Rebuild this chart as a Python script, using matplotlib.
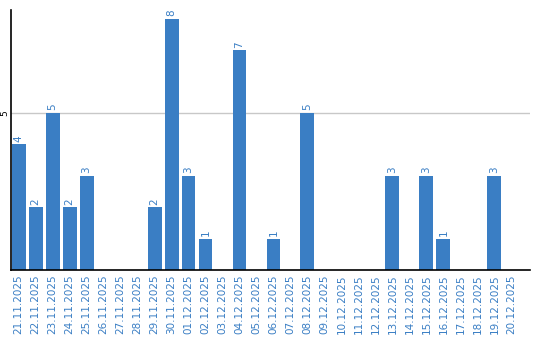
import matplotlib
matplotlib.use('Agg')
import matplotlib.pyplot as plt

dates = ['21.11.2025', '22.11.2025', '23.11.2025', '24.11.2025', '25.11.2025',
         '26.11.2025', '27.11.2025', '28.11.2025', '29.11.2025', '30.11.2025',
         '01.12.2025', '02.12.2025', '03.12.2025', '04.12.2025', '05.12.2025',
         '06.12.2025', '07.12.2025', '08.12.2025', '09.12.2025', '10.12.2025',
         '11.12.2025', '12.12.2025', '13.12.2025', '14.12.2025', '15.12.2025',
         '16.12.2025', '17.12.2025', '18.12.2025', '19.12.2025', '20.12.2025']
counts = [4, 2, 5, 2, 3, 0, 0, 0, 2, 8,
          3, 1, 0, 7, 0, 1, 0, 5, 0, 0,
          0, 0, 3, 0, 3, 1, 0, 0, 3, 0]

blue = '#3a7ec4'

fig = plt.figure(figsize=(5.4, 3.4), dpi=100)
ax = fig.add_axes([11/540, 70/340, 519/540, 260/340])

x = range(len(dates))
ax.bar(x, counts, width=0.82, color=blue, zorder=2)
for i, v in enumerate(counts):
    if v > 0:
        ax.text(i, v + 0.08, str(v), rotation=90, ha='center', va='bottom',
                color=blue, fontsize=7.5)

ax.set_xlim(-0.45, 30.1)
ax.set_ylim(0, 8.28)
ax.set_yticks([5])
ax.set_yticklabels(['5'], rotation=90, va='center', fontsize=6.5)
ax.tick_params(axis='y', length=0, pad=1)
ax.set_xticks(list(x))
ax.set_xticklabels(dates, rotation=90, color=blue, fontsize=7.5)
ax.tick_params(axis='x', length=0, pad=3)
ax.grid(True, axis='y', color='#c8c8c8', lw=1, zorder=1)
ax.spines['top'].set_visible(False)
ax.spines['right'].set_visible(False)
ax.spines['left'].set_linewidth(1.2)
ax.spines['bottom'].set_linewidth(1.2)

fig.savefig('out.png', dpi=100)
